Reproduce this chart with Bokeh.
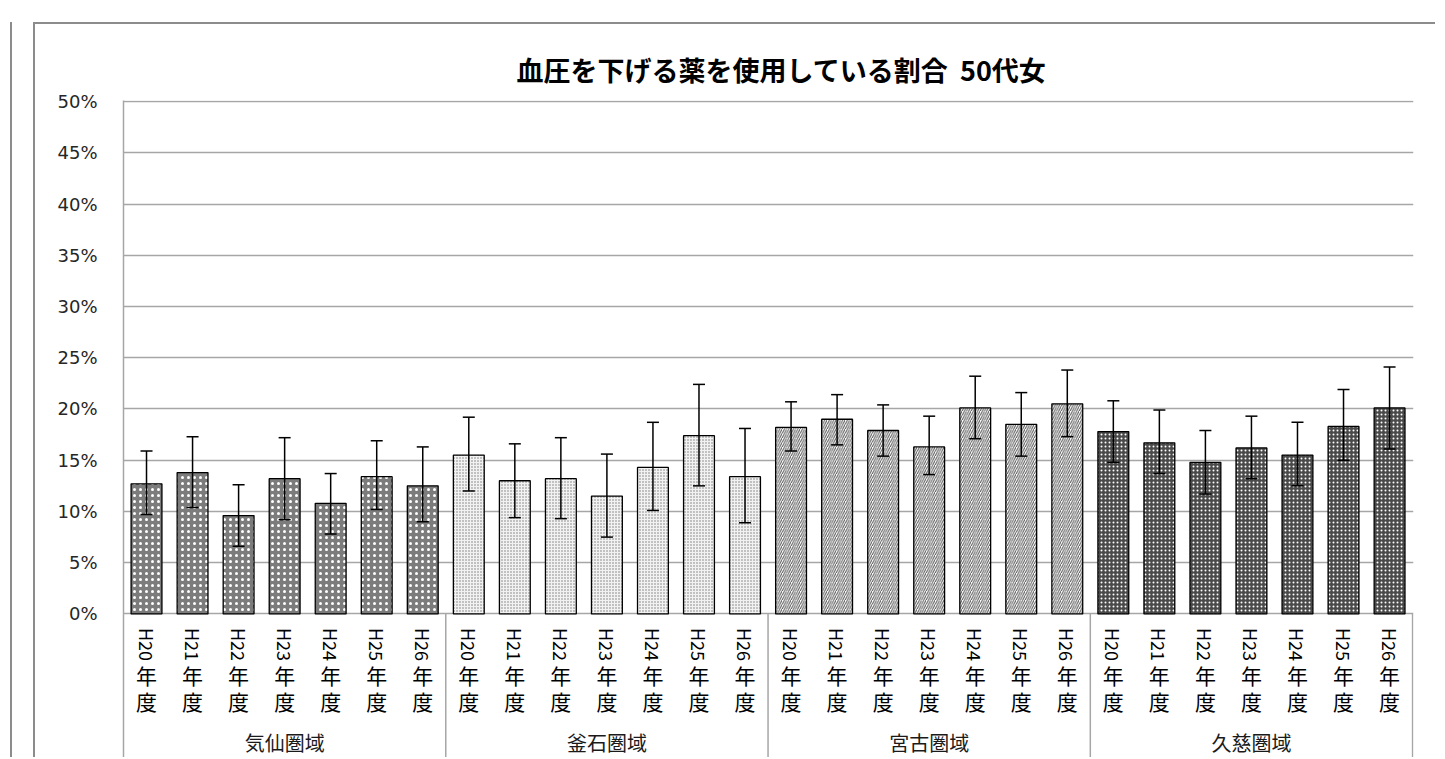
import math
from bokeh.plotting import figure
from bokeh.models import (Range1d, FixedTicker, PrintfTickFormatter, ColumnDataSource,
                          Whisker, TeeHead, Title, Column)
from bokeh.core.properties import value
from bokeh.embed import file_html
from bokeh.resources import INLINE

# ---------------- data ----------------
title_text = "血圧を下げる薬を使用している割合 \u00a050代女"
areas = ["気仙圏域", "釜石圏域", "宮古圏域", "久慈圏域"]
year_codes = ["H20", "H21", "H22", "H23", "H24", "H25", "H26"]
year_suffix = "年\n度"
y_ticks = [0, 5, 10, 15, 20, 25, 30, 35, 40, 45, 50]

kesen = [12.7, 13.8, 9.6, 13.2, 10.8, 13.4, 12.5]
kesen_hi = [15.9, 17.3, 12.6, 17.2, 13.7, 16.9, 16.3]
kesen_lo = [9.7, 10.4, 6.6, 9.2, 7.8, 10.2, 9.0]

kamaishi = [15.5, 13.0, 13.2, 11.5, 14.3, 17.4, 13.4]
kamaishi_hi = [19.2, 16.6, 17.2, 15.6, 18.7, 22.4, 18.1]
kamaishi_lo = [12.0, 9.4, 9.3, 7.5, 10.1, 12.5, 8.9]

miyako = [18.2, 19.0, 17.9, 16.3, 20.1, 18.5, 20.5]
miyako_hi = [20.7, 21.4, 20.4, 19.3, 23.2, 21.6, 23.8]
miyako_lo = [15.9, 16.5, 15.4, 13.6, 17.1, 15.4, 17.3]

kuji = [17.8, 16.7, 14.8, 16.2, 15.5, 18.3, 20.1]
kuji_hi = [20.8, 19.9, 17.9, 19.3, 18.7, 21.9, 24.1]
kuji_lo = [14.8, 13.7, 11.7, 13.2, 12.5, 15.0, 16.1]

series = [(kesen, kesen_hi, kesen_lo), (kamaishi, kamaishi_hi, kamaishi_lo),
          (miyako, miyako_hi, miyako_lo), (kuji, kuji_hi, kuji_lo)]

# ---------------- styles ----------------
styles = [
    dict(fill_color="#7c7c7c", hatch_pattern="dot", hatch_color="white", hatch_scale=6, hatch_weight=1.6),
    dict(fill_color="#f2f2f2", hatch_pattern="dot", hatch_color="#777777", hatch_scale=3, hatch_weight=1.0),
    dict(fill_color="white", hatch_pattern="right_diagonal_line", hatch_color="#555555", hatch_scale=4.5, hatch_weight=1.0),
    dict(fill_color="#4a4a4a", hatch_pattern="dot", hatch_color="white", hatch_scale=4, hatch_weight=1.6),
]

JP_NAME = "Noto Sans CJK JP"
JP = value(JP_NAME)
GRID = "#a6a6a6"
n_years = len(year_codes)
n_slots = len(areas) * n_years
Y_TOP = 50.1
Y_BOTTOM = -14.2

p = figure(width=1402, height=735, output_backend="svg", toolbar_location=None,
           x_range=Range1d(0, n_slots + 0.02), y_range=Range1d(Y_BOTTOM, Y_TOP),
           x_axis_type=None, min_border_left=88, min_border_right=24,
           min_border_top=76, min_border_bottom=0,
           outline_line_color=None, background_fill_color="white", border_fill_color="white")

p.title = Title(text=title_text, align="left", offset=393, text_font=JP_NAME,
                text_font_size="27px", text_font_style="bold", text_color="black", standoff=24)

yax = p.yaxis[0]
yax.ticker = FixedTicker(ticks=y_ticks)
yax.formatter = PrintfTickFormatter(format="%d%%")
yax.major_label_text_font = "DejaVu Sans"
yax.major_label_text_font_size = "18px"
yax.major_label_text_color = "#262626"
yax.axis_line_color = GRID
yax.axis_line_width = 1.5
yax.major_tick_line_color = None
yax.minor_tick_line_color = None
yax.major_label_standoff = 20

p.ygrid.ticker = FixedTicker(ticks=y_ticks)
p.ygrid.grid_line_color = GRID
p.ygrid.grid_line_width = 1.5
p.xgrid.visible = False

# separators below the category axis
sep_x = [float(n_years * (i + 1)) for i in range(len(areas))]
p.segment(x0=sep_x, y0=[0] * len(sep_x), x1=sep_x, y1=[Y_BOTTOM] * len(sep_x),
          line_color=GRID, line_width=1.5)

all_x = []
for gi, (vals, hi, lo) in enumerate(series):
    xs = [gi * n_years + j + 0.5 for j in range(n_years)]
    all_x += xs
    src = ColumnDataSource(dict(x=xs, top=vals, upper=hi, lower=lo))
    p.vbar(x="x", top="top", bottom=0, width=0.67, source=src,
           line_color="black", line_width=1.3, **styles[gi])
    w = Whisker(base="x", upper="upper", lower="lower", source=src, level="overlay",
                line_color="black", line_width=1.5,
                upper_head=TeeHead(size=12, line_color="black", line_width=1.5),
                lower_head=TeeHead(size=12, line_color="black", line_width=1.5))
    p.add_layout(w)

# vertical year labels
codes_all = year_codes * len(areas)
p.text(x=all_x, y=[0] * len(all_x), text=codes_all, angle=-math.pi / 2,
       text_align="left", text_baseline="middle", y_offset=14,
       text_font=JP, text_font_size="18px", text_color="black")
p.text(x=all_x, y=[0] * len(all_x), text=[year_suffix] * len(all_x),
       text_align="center", text_baseline="top", y_offset=46, text_line_height=0.88,
       text_font=JP, text_font_size="21px", text_color="black")

# area labels
area_x = [gi * n_years + n_years / 2 for gi in range(len(areas))]
p.text(x=area_x, y=[0] * len(areas), text=areas, text_align="center",
       text_baseline="middle", y_offset=129, text_font=JP, text_font_size="20px",
       text_color="#1a1a1a")

p.styles = {"margin-left": "21px", "border-left": "2px solid #8c8c8c",
            "border-top": "2px solid #8c8c8c"}
layout = Column(children=[p], styles={"margin-left": "10px", "margin-top": "22px",
                                      "margin-bottom": "-8px",
                                      "border-left": "2px solid #8c8c8c"})

open("out.html", "w").write(file_html(layout, INLINE))
